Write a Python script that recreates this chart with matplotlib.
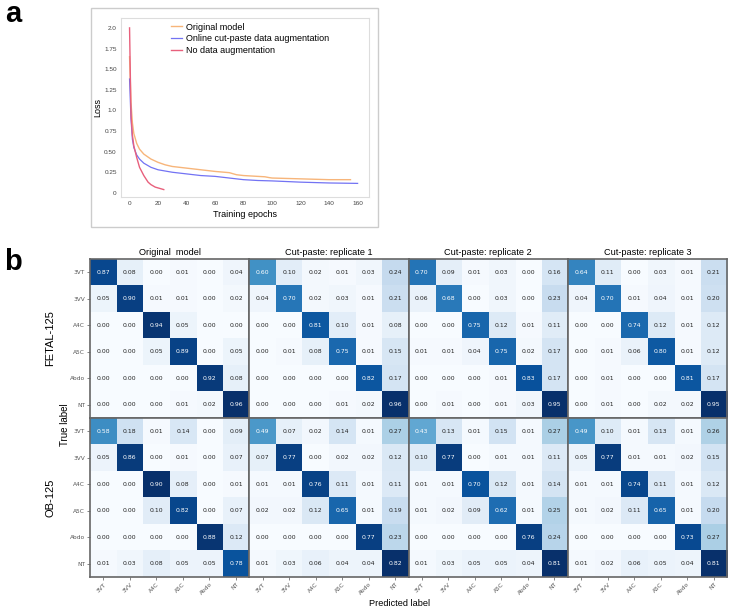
import numpy as np
import matplotlib
matplotlib.use("Agg")
import matplotlib.pyplot as plt
from matplotlib.patches import Rectangle

# ---- panel a: loss curves ----
orig_epochs = [0, 1, 2, 3, 5, 7, 10, 15, 20, 25, 30, 40, 50, 60, 70, 72, 75, 80, 90, 95, 98, 100, 110, 120, 130, 140, 150, 155]
orig_loss = [1.65, 1.1, 0.85, 0.72, 0.6, 0.53, 0.47, 0.41, 0.37, 0.34, 0.32, 0.30, 0.28, 0.26, 0.245, 0.235, 0.22, 0.21, 0.2, 0.195, 0.185, 0.18, 0.175, 0.17, 0.165, 0.16, 0.16, 0.16]

cutpaste_epochs = [0, 1, 2, 3, 5, 7, 10, 15, 20, 30, 40, 50, 60, 70, 80, 90, 100, 120, 140, 160]
cutpaste_loss = [1.38, 0.9, 0.65, 0.55, 0.46, 0.41, 0.36, 0.31, 0.28, 0.25, 0.23, 0.21, 0.20, 0.18, 0.16, 0.15, 0.145, 0.13, 0.12, 0.115]

noaug_epochs = [0, 1, 2, 3, 5, 7, 10, 13, 15, 18, 20, 24]
noaug_loss = [2.0, 0.95, 0.7, 0.57, 0.43, 0.31, 0.21, 0.13, 0.10, 0.07, 0.06, 0.04]

loss_yticks = [0, 0.25, 0.5, 0.75, 1.0, 1.25, 1.5, 1.75, 2.0]
loss_yticklabels = ["0", "0.25", "0.50", "0.75", "1.0", "1.25", "1.50", "1.75", "2.0"]

# ---- panel b: confusion matrices ----
classes = ["3VT", "3VV", "A4C", "A5C", "Abdo", "NT"]
titles = ["Original  model", "Cut-paste: replicate 1", "Cut-paste: replicate 2", "Cut-paste: replicate 3"]
row_names = ["FETAL-125", "OB-125"]

fetal_orig = [[0.87, 0.08, 0.00, 0.01, 0.00, 0.04],
              [0.05, 0.90, 0.01, 0.01, 0.00, 0.02],
              [0.00, 0.00, 0.94, 0.05, 0.00, 0.00],
              [0.00, 0.00, 0.05, 0.89, 0.00, 0.05],
              [0.00, 0.00, 0.00, 0.00, 0.92, 0.08],
              [0.00, 0.00, 0.00, 0.01, 0.02, 0.96]]
fetal_rep1 = [[0.60, 0.10, 0.02, 0.01, 0.03, 0.24],
              [0.04, 0.70, 0.02, 0.03, 0.01, 0.21],
              [0.00, 0.00, 0.81, 0.10, 0.01, 0.08],
              [0.00, 0.01, 0.08, 0.75, 0.01, 0.15],
              [0.00, 0.00, 0.00, 0.00, 0.82, 0.17],
              [0.00, 0.00, 0.00, 0.01, 0.02, 0.96]]
fetal_rep2 = [[0.70, 0.09, 0.01, 0.03, 0.00, 0.16],
              [0.06, 0.68, 0.00, 0.03, 0.00, 0.23],
              [0.00, 0.00, 0.75, 0.12, 0.01, 0.11],
              [0.01, 0.01, 0.04, 0.75, 0.02, 0.17],
              [0.00, 0.00, 0.00, 0.01, 0.83, 0.17],
              [0.00, 0.01, 0.00, 0.01, 0.03, 0.95]]
fetal_rep3 = [[0.64, 0.11, 0.00, 0.03, 0.01, 0.21],
              [0.04, 0.70, 0.01, 0.04, 0.01, 0.20],
              [0.00, 0.00, 0.74, 0.12, 0.01, 0.12],
              [0.00, 0.01, 0.06, 0.80, 0.01, 0.12],
              [0.00, 0.01, 0.00, 0.00, 0.81, 0.17],
              [0.00, 0.01, 0.00, 0.02, 0.02, 0.95]]

ob_orig = [[0.58, 0.18, 0.01, 0.14, 0.00, 0.09],
           [0.05, 0.86, 0.00, 0.01, 0.00, 0.07],
           [0.00, 0.00, 0.90, 0.08, 0.00, 0.01],
           [0.00, 0.00, 0.10, 0.82, 0.00, 0.07],
           [0.00, 0.00, 0.00, 0.00, 0.88, 0.12],
           [0.01, 0.03, 0.08, 0.05, 0.05, 0.78]]
ob_rep1 = [[0.49, 0.07, 0.02, 0.14, 0.01, 0.27],
           [0.07, 0.77, 0.00, 0.02, 0.02, 0.12],
           [0.01, 0.01, 0.76, 0.11, 0.01, 0.11],
           [0.02, 0.02, 0.12, 0.65, 0.01, 0.19],
           [0.00, 0.00, 0.00, 0.00, 0.77, 0.23],
           [0.01, 0.03, 0.06, 0.04, 0.04, 0.82]]
ob_rep2 = [[0.43, 0.13, 0.01, 0.15, 0.01, 0.27],
           [0.10, 0.77, 0.00, 0.01, 0.01, 0.11],
           [0.01, 0.01, 0.70, 0.12, 0.01, 0.14],
           [0.01, 0.02, 0.09, 0.62, 0.01, 0.25],
           [0.00, 0.00, 0.00, 0.00, 0.76, 0.24],
           [0.01, 0.03, 0.05, 0.05, 0.04, 0.81]]
ob_rep3 = [[0.49, 0.10, 0.01, 0.13, 0.01, 0.26],
           [0.05, 0.77, 0.01, 0.01, 0.02, 0.15],
           [0.01, 0.01, 0.74, 0.11, 0.01, 0.12],
           [0.01, 0.02, 0.11, 0.65, 0.01, 0.20],
           [0.00, 0.00, 0.00, 0.00, 0.73, 0.27],
           [0.01, 0.02, 0.06, 0.05, 0.04, 0.81]]

matrices = [[fetal_orig, fetal_rep1, fetal_rep2, fetal_rep3],
            [ob_orig, ob_rep1, ob_rep2, ob_rep3]]

SANS = ["Liberation Sans", "DejaVu Sans"]

fig = plt.figure(figsize=(7.33, 6.12), dpi=100)
W, H = 733, 612

def fx(px):
    return px / W

def fy(py):
    return 1 - py / H

# ============================================
# a) Loss curves
# ============================================
fig.patches.append(Rectangle((fx(91), fy(227)), fx(378) - fx(91), fy(8) - fy(227),
                             transform=fig.transFigure, fill=False,
                             edgecolor="#cccccc", linewidth=1.0))
fig.text(fx(5), fy(22), "a", fontsize=21, fontweight="bold", family=SANS, va="baseline")

ax = fig.add_axes([fx(121), fy(197), fx(369) - fx(121), fy(18) - fy(197)])
ax.plot(orig_epochs, orig_loss, color="#f7b57a", lw=1.0, label="Original model")
ax.plot(cutpaste_epochs, cutpaste_loss, color="#5a5af2", lw=0.9, alpha=0.85,
        label="Online cut-paste data augmentation")
ax.plot(noaug_epochs, noaug_loss, color="#e8607c", lw=1.0, label="No data augmentation")
ax.set_xlim(-6, 168)
ax.set_ylim(-0.05, 2.12)
ax.set_xticks([0, 20, 40, 60, 80, 100, 120, 140, 160])
ax.set_yticks(loss_yticks)
ax.set_yticklabels(loss_yticklabels)
ax.tick_params(axis="y", labelsize=4.6, length=0, pad=3, colors="#444444")
ax.tick_params(axis="x", labelsize=4.6, length=0, pad=3, colors="#444444")
for lab in ax.get_xticklabels() + ax.get_yticklabels():
    lab.set_family(SANS)
for s in ax.spines.values():
    s.set_color("#dddddd")
    s.set_linewidth(0.8)
ax.set_xlabel("Training epochs", fontsize=6.5, family=SANS, labelpad=3)
ax.set_ylabel("Loss", fontsize=6.5, family=SANS, labelpad=1.5)
leg = ax.legend(loc="upper left", bbox_to_anchor=(0.17, 1.02), frameon=False,
                prop={"family": SANS, "size": 6.5}, handlelength=1.2,
                handletextpad=0.4, labelspacing=0.32)

# ============================================
# b) Confusion matrices
# ============================================
fig.text(fx(4), fy(270), "b", fontsize=21, fontweight="bold", family=SANS, va="baseline")

gs = fig.add_gridspec(2, 4, left=fx(90), right=fx(727), top=fy(259), bottom=fy(577),
                      wspace=0, hspace=0)
for r in range(2):
    for c in range(4):
        cm = np.array(matrices[r][c])
        axm = fig.add_subplot(gs[r, c])
        axm.imshow(cm, cmap="Blues", aspect="auto", interpolation="nearest")
        thresh = cm.max() / 2.0
        for i in range(cm.shape[0]):
            for j in range(cm.shape[1]):
                axm.text(j, i, f"{cm[i, j]:.2f}", ha="center", va="center", fontsize=4.4,
                         color="white" if cm[i, j] > thresh else "#222222")
        axm.set_xticks(range(len(classes)))
        axm.set_yticks(range(len(classes)))
        axm.tick_params(length=2, width=0.5, colors="#555555", labelsize=4.2, pad=1.5)
        if r == 1:
            axm.set_xticklabels(classes, rotation=45, ha="right", rotation_mode="anchor")
        else:
            axm.set_xticklabels([])
            axm.set_title(titles[c], fontsize=6.6, family=SANS, pad=3)
        if c == 0:
            axm.set_yticklabels(classes)
        else:
            axm.set_yticklabels([])
            axm.tick_params(axis="y", length=0)
        for s in axm.spines.values():
            s.set_color("#666666")
            s.set_linewidth(1.2)

fig.text(fx(50), fy(338), row_names[0], rotation=90, fontsize=8, family=SANS,
         ha="center", va="center")
fig.text(fx(50), fy(498), row_names[1], rotation=90, fontsize=8, family=SANS,
         ha="center", va="center")
fig.text(fx(65), fy(425), "True label", rotation=90, fontsize=7, family=SANS,
         ha="center", va="center")
fig.text(fx(400), fy(603), "Predicted label", fontsize=6.6, family=SANS,
         ha="center", va="center")

fig.savefig("out.png", dpi=100)
